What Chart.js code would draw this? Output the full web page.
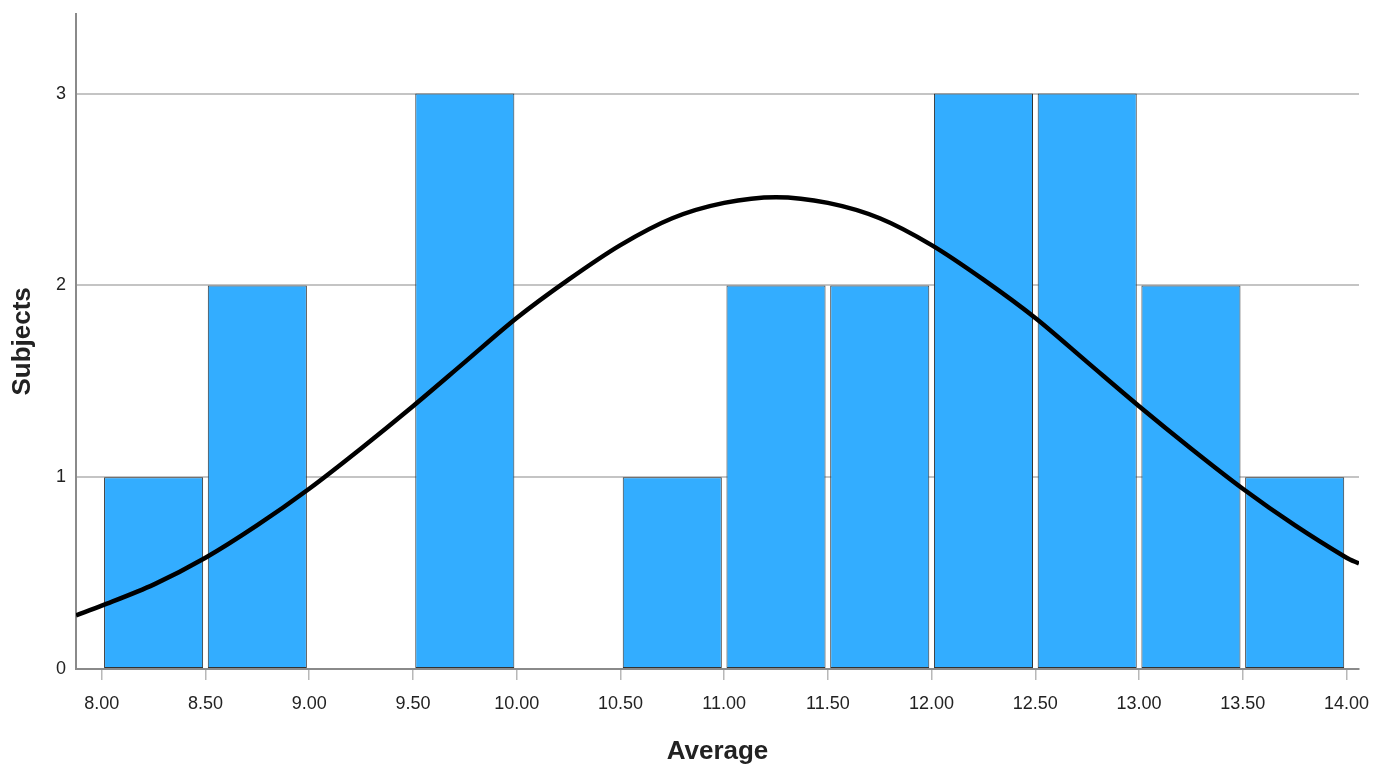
<!DOCTYPE html>
<html>
<head>
<meta charset="utf-8">
<script src="https://cdn.jsdelivr.net/npm/chart.js@4"></script>
<style>
  html, body { margin: 0; padding: 0; background: #fff; }
  #wrap { width: 1386px; height: 764px; overflow: hidden; }
  #HistChart { display: block; margin-top: -7px; }
</style>
</head>
<body>
<div id="wrap"><canvas id="HistChart" width="1386" height="774"></canvas></div>
<script>
// histogram bins (centre of each 0.5 wide bin) and counts
const binCenters = [8.25, 8.75, 9.25, 9.75, 10.25, 10.75, 11.25, 11.75, 12.25, 12.75, 13.25, 13.75];
const binCounts = [1, 2, null, 3, null, 1, 2, 2, 3, 3, 2, 1];

// normal curve
const curveX = [7.876, 8.00, 8.25, 8.50, 8.75, 9.00, 9.25, 9.50, 9.75, 10.00, 10.25, 10.50, 10.75, 11.00, 11.25, 11.50, 11.75, 12.00, 12.25, 12.50, 12.75, 13.00, 13.25, 13.50, 13.75, 14.00, 14.06];
const curveY = [0.28, 0.33, 0.44, 0.58, 0.75, 0.94, 1.15, 1.37, 1.60, 1.83, 2.03, 2.21, 2.35, 2.43, 2.46, 2.43, 2.35, 2.21, 2.03, 1.83, 1.60, 1.37, 1.15, 0.94, 0.75, 0.58, 0.55];

const xTicks = [8, 8.5, 9, 9.5, 10, 10.5, 11, 11.5, 12, 12.5, 13, 13.5, 14];
const yTicks = [0, 1, 2, 3];

const ctx = document.getElementById('HistChart');

const barPoints = [];
for (let k = 0; k < binCenters.length; k++) {
    barPoints.push({ x: binCenters[k], y: binCounts[k] });
}
const linePoints = [];
for (let k = 0; k < curveX.length; k++) {
    linePoints.push({ x: curveX[k], y: curveY[k] });
}

const data = {
    datasets: [{
        type: 'line',
        data: linePoints,
        borderColor: '#000000',
        borderWidth: 4.5,
        pointRadius: 0,
        tension: 0.3,
        fill: false,
        order: 0
    }, {
        type: 'bar',
        data: barPoints,
        backgroundColor: '#33adff',
        borderColor: '#333333',
        borderWidth: 1,
        borderSkipped: false,
        categoryPercentage: 1.0,
        barPercentage: 0.955,
        order: 1
    }]
};

const config = {
    type: 'bar',
    data: data,
    options: {
        responsive: false,
        animation: false,
        layout: {
            padding: { top: 3, right: 27, left: 0, bottom: 0 }
        },
        plugins: {
            legend: { display: false },
            tooltip: { enabled: false }
        },
        scales: {
            x: {
                type: 'linear',
                offset: false,
                min: 7.876,
                max: 14.06,
                afterBuildTicks: function (scale) {
                    scale.ticks = xTicks.map(v => ({ value: v }));
                },
                afterFit: function (scale) {
                    scale.height = 98;
                },
                ticks: {
                    autoSkip: false,
                    maxRotation: 0,
                    padding: 13,
                    color: '#222',
                    font: { family: 'Liberation Sans', size: 18 },
                    callback: function (v) { return Number(v).toFixed(2); }
                },
                grid: {
                    offset: false,
                    drawOnChartArea: false,
                    drawTicks: true,
                    tickLength: 11,
                    color: '#b8b8b8',
                    lineWidth: 1.5
                },
                border: { color: '#8a8a8a', width: 2 },
                title: {
                    display: true,
                    text: 'Average',
                    color: '#222',
                    font: { family: 'Liberation Sans', size: 26, weight: 'bold' },
                    padding: { top: 10, bottom: 0 }
                }
            },
            y: {
                min: 0,
                max: 3.416,
                afterBuildTicks: function (scale) {
                    scale.ticks = yTicks.map(v => ({ value: v }));
                },
                afterFit: function (scale) {
                    scale.width = 76;
                },
                ticks: {
                    padding: 10,
                    color: '#222',
                    font: { family: 'Liberation Sans', size: 18 }
                },
                grid: {
                    drawTicks: false,
                    color: '#c4c4c4',
                    lineWidth: 2
                },
                border: { color: '#8a8a8a', width: 2 },
                title: {
                    display: true,
                    text: 'Subjects',
                    color: '#222',
                    font: { family: 'Liberation Sans', size: 26, weight: 'bold' },
                    padding: { top: 7, bottom: 0 }
                }
            }
        }
    }
};

new Chart(ctx, config);
</script>
</body>
</html>
